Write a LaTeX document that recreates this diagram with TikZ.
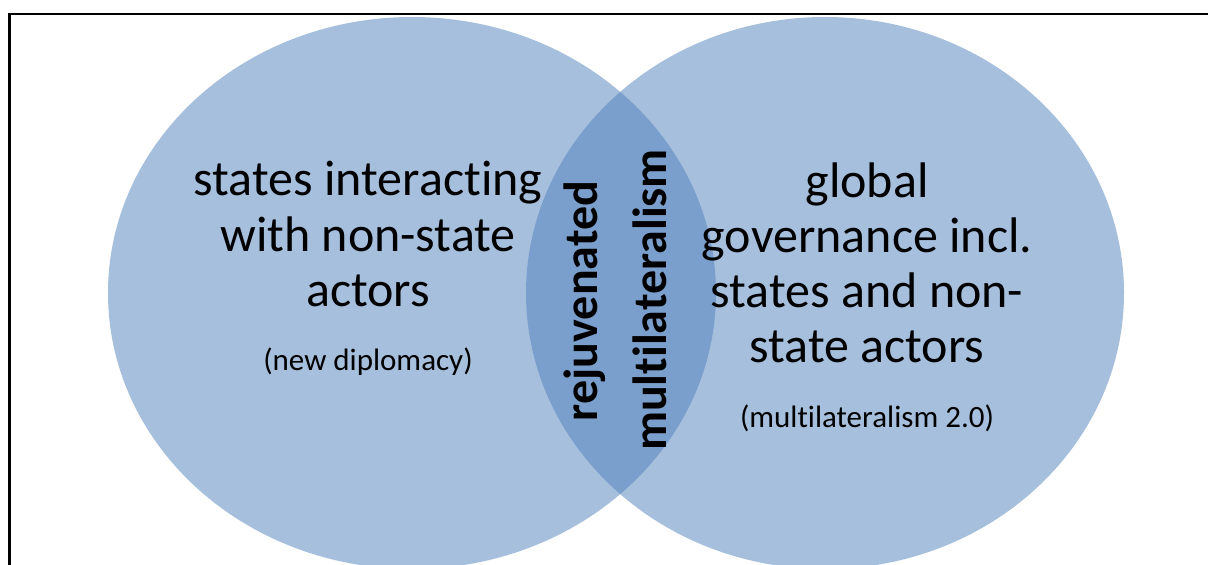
\documentclass[tikz,border=0pt]{standalone}
\usepackage{fontspec}
\setmainfont{Carlito}[Ligatures=NoCommon]
\begin{document}
\begin{tikzpicture}[x=1pt,y=-1pt,
  venn/.style={fill={rgb,255:red,79;green,129;blue,189},fill opacity=0.5},
  bigtxt/.style={anchor=base,inner sep=0pt,font=\fontsize{50}{55.5}\selectfont},
  smalltxt/.style={anchor=base,inner sep=0pt,font=\fontsize{31}{36}\selectfont},
  lenstxt/.style={anchor=base,inner sep=0pt,rotate=90,font=\fontsize{48}{56}\selectfont\bfseries}]
\useasboundingbox (0,0) rectangle (1208,565);
\fill[white] (0,0) rectangle (1208,565);
\draw[line width=2.5pt,black] (9.5,566) -- (9.5,13.8) -- (1209,13.8);
\fill[venn] (412,293) ellipse [x radius=304, y radius=276];
\fill[venn] (825,293) ellipse [x radius=299, y radius=276];
% left
\node[bigtxt] (l1) at (368,195) {states interacting};
\node[bigtxt] (l2) at (368,251) {with non-state};
\node[bigtxt] (l3) at (368,306) {actors};
\node[smalltxt] (l4) at (368,370) {(new diplomacy)};
% right
\node[bigtxt] (r1) at (867,197) {global};
\node[bigtxt] (r2) at (867,252) {governance incl.};
\node[bigtxt] (r3) at (867,307) {states and non-};
\node[bigtxt] (r4) at (867,362) {state actors};
\node[smalltxt] (r5) at (867,427) {(multilateralism 2.0)};
% lens
\node[lenstxt] (m1) at (597,301) {rejuvenated};
\node[lenstxt] (m2) at (666,300) {multilateralism};
\end{tikzpicture}
\end{document}
